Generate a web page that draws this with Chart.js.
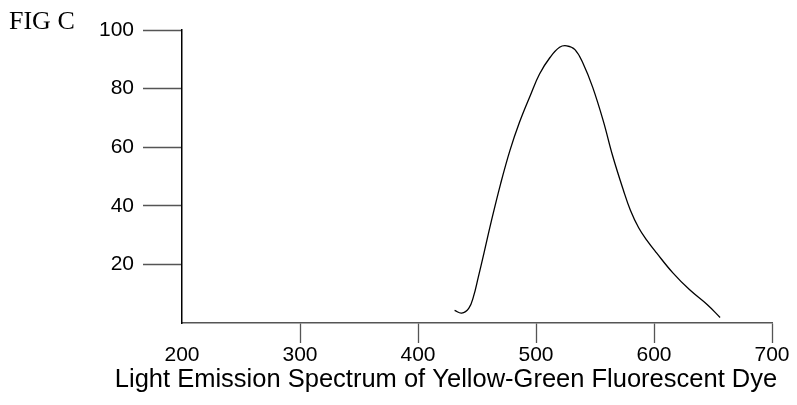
<!DOCTYPE html>
<html>
<head>
<meta charset="utf-8">
<script src="https://cdn.jsdelivr.net/npm/chart.js@4"></script>
<style>
  body { margin: 0; background: #fff; }
  #wrap { width: 797px; height: 405px; }
</style>
</head>
<body>
<div id="wrap"><canvas id="spectrumChart" width="797" height="405"></canvas></div>
<script>
// wavelength (nm) and relative emission
const wavelength = [431, 437, 443, 447, 451, 456, 462, 470, 478, 486, 495, 503, 512, 520, 526, 533, 540, 548, 557, 565, 574, 580, 587, 594, 602, 616, 630, 645, 656];
const intensity  = [4.3, 3.4, 5.0, 9.0, 15.5, 24, 34.5, 47.5, 59, 68.5, 77.5, 85, 90.7, 94.1, 94.6, 93.3, 88.5, 80.5, 69, 57, 45.4, 38.5, 32.5, 28.2, 24, 17.1, 11.4, 6.3, 1.9];
const xTicks = [200, 300, 400, 500, 600, 700];
const yTicks = [20, 40, 60, 80, 100];
const figLabel = 'FIG C';
const axisTitle = 'Light Emission Spectrum of Yellow-Green Fluorescent Dye';

const points = wavelength.map((w, i) => ({x: w, y: intensity[i]}));

// labels drawn straight onto the canvas (title is not centred on the plot)
const textPlugin = {
  id: 'figText',
  afterDraw(chart){
    const ctx = chart.ctx;
    ctx.save();
    ctx.fillStyle = '#000';
    ctx.textBaseline = 'alphabetic';
    ctx.textAlign = 'left';
    ctx.font = '26px "Liberation Serif", "Times New Roman", serif';
    ctx.fillText(figLabel, 9, 29);
    ctx.textAlign = 'center';
    ctx.font = '25.5px "Liberation Sans", Arial, sans-serif';
    ctx.fillText(axisTitle, 446, 387);
    ctx.restore();
  }
};

const ctx = document.getElementById('spectrumChart').getContext('2d');
const myChart = new Chart(ctx, {
  type: 'line',
  data: {
    datasets: [{
      data: points,
      borderColor: '#000',
      borderWidth: 1.3,
      pointRadius: 0,
      fill: false,
      tension: 0.4
    }]
  },
  options: {
    responsive: false,
    devicePixelRatio: 1,
    animation: false,
    layout: { padding: { top: 30, right: 25, left: 0, bottom: 0 } },
    plugins: { legend: { display: false }, tooltip: { enabled: false } },
    scales: {
      x: {
        type: 'linear',
        min: 200,
        max: 700,
        afterBuildTicks: scale => { scale.ticks = xTicks.map(v => ({value: v})); },
        afterFit: scale => { scale.height = 82; },
        border: { color: '#555', width: 1.5 },
        grid: {
          drawOnChartArea: false,
          tickLength: 20,
          tickWidth: 1.3,
          tickColor: c => (c.index === 0 ? 'rgba(0,0,0,0)' : '#555')
        },
        ticks: {
          color: '#000',
          padding: 0,
          maxRotation: 0,
          font: { family: '"Liberation Sans", Arial, sans-serif', size: 21 }
        }
      },
      y: {
        min: 0,
        max: 100,
        afterBuildTicks: scale => { scale.ticks = yTicks.map(v => ({value: v})); },
        afterFit: scale => { scale.width = 182; },
        border: { color: '#000', width: 1.5 },
        grid: {
          drawOnChartArea: false,
          tickLength: 39,
          tickWidth: 1.3,
          tickColor: '#555'
        },
        ticks: {
          color: '#000',
          padding: 9,
          font: { family: '"Liberation Sans", Arial, sans-serif', size: 21 }
        }
      }
    }
  },
  plugins: [textPlugin]
});
</script>
</body>
</html>
